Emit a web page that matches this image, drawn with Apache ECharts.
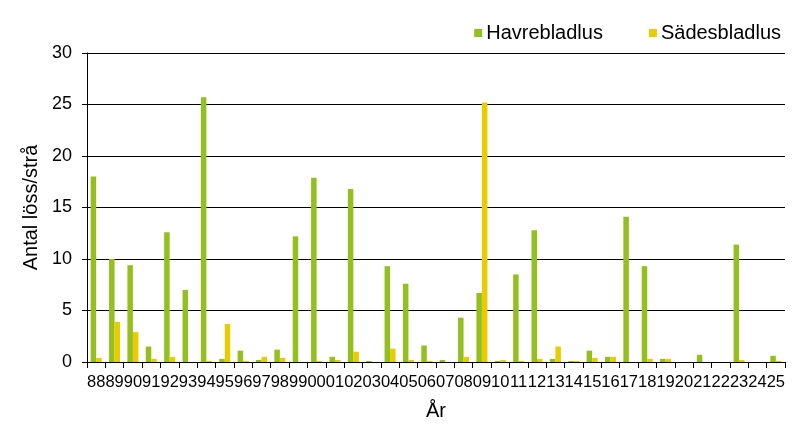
<!DOCTYPE html>
<html><head><meta charset="utf-8">
<script src="https://cdn.jsdelivr.net/npm/echarts@6/dist/echarts.min.js"></script>
<style>html,body{margin:0;padding:0;background:#fff}#c{width:808px;height:432px}</style>
</head><body><div id="c"></div>
<script>
const years = ['88','89','90','91','92','93','94','95','96','97','98','99','00','01','02','03','04','05','06','07','08','09','10','11','12','13','14','15','16','17','18','19','20','21','22','23','24','25'];
const havrebladlus = [18.0,10.0,9.4,1.5,12.6,7.0,25.7,0.3,1.1,0.2,1.2,12.2,17.9,0.5,16.8,0.1,9.3,7.6,1.6,0.2,4.3,6.7,0.1,8.5,12.8,0.3,0.1,1.1,0.5,14.1,9.3,0.3,0,0.7,0,11.4,0,0.6];
const sadesbladlus = [0.4,3.9,2.9,0.3,0.5,0,0.1,3.7,0.1,0.5,0.4,0,0.1,0.2,1.0,0,1.3,0.2,0.1,0,0.5,25.2,0.2,0.1,0.3,1.5,0.1,0.4,0.5,0,0.3,0.3,0,0,0,0.2,0,0.1];
const yTicks = [0,5,10,15,20,25,30];
const font = 'Liberation Sans, Arial, sans-serif';
const chart = echarts.init(document.getElementById('c'), null, {renderer:'canvas'});
chart.setOption({
  animation:false,
  textStyle:{fontFamily:font},
  legend:{
    right:22, top:18, itemWidth:8, itemHeight:8, itemGap:46, icon:'rect',
    textStyle:{fontSize:20, color:'#000', fontFamily:font, padding:[0,0,0,-1]}
  },
  grid:{left:87, right:23, top:53, bottom:70},
  xAxis:{
    type:'category', data:years,
    name:'År', nameLocation:'middle', nameGap:39,
    nameTextStyle:{fontSize:20, color:'#000', fontFamily:font},
    axisLine:{lineStyle:{color:'#000', width:1}},
    axisTick:{show:true, length:6, lineStyle:{color:'#000'}, alignWithLabel:false},
    axisLabel:{interval:0, fontSize:16.5, color:'#000', margin:12, fontFamily:font}
  },
  yAxis:{
    type:'value', min:yTicks[0], max:yTicks[yTicks.length-1], interval:5,
    name:'Antal löss/strå', nameLocation:'middle', nameGap:42, nameRotate:90,
    nameTextStyle:{fontSize:20, color:'#000', fontFamily:font},
    axisLine:{show:true, lineStyle:{color:'#000'}},
    axisTick:{show:true, length:5, lineStyle:{color:'#000'}},
    axisLabel:{fontSize:18, color:'#000', margin:15, fontFamily:font},
    splitLine:{lineStyle:{color:'#000', width:1}}
  },
  series:[
    {name:'Havrebladlus', type:'bar', data:havrebladlus, itemStyle:{color:'#93C01F'}, barGap:'0%', barCategoryGap:'40%'},
    {name:'Sädesbladlus', type:'bar', data:sadesbladlus, itemStyle:{color:'#E6CC00'}}
  ]
});
</script></body></html>
